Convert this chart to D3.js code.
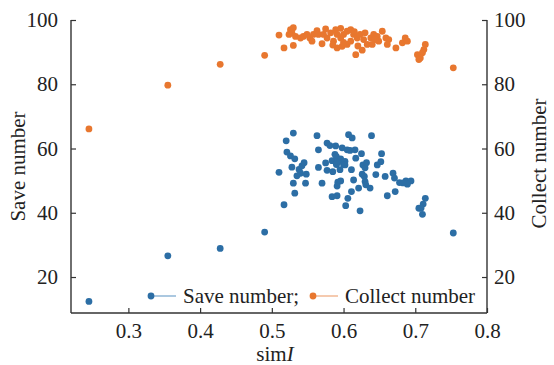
<!DOCTYPE html>
<html>
<head>
<meta charset="utf-8">
<script src="https://cdn.jsdelivr.net/npm/d3@7"></script>
<style>
  body { margin: 0; background: #fff; }
  svg text { font-family: "Liberation Serif", "DejaVu Serif", serif; fill: #222; }
</style>
</head>
<body>
<div id="chart"></div>
<script>
const saveSim = [0.245, 0.355, 0.428, 0.490, 0.753,
  0.530, 0.520, 0.563, 0.521, 0.526, 0.532, 0.510, 0.528,
  0.538, 0.542, 0.545, 0.540, 0.535, 0.548,
  0.565, 0.565, 0.577, 0.581, 0.575, 0.577, 0.584, 0.588, 0.590, 0.585,
  0.530, 0.532, 0.547, 0.570, 0.517, 0.584, 0.592,
  0.607, 0.612, 0.639, 0.589, 0.598, 0.605, 0.609, 0.616,
  0.590, 0.596, 0.602, 0.592, 0.600,
  0.625, 0.653, 0.617, 0.591, 0.602, 0.611, 0.627, 0.630, 0.632,
  0.647, 0.652, 0.595, 0.645,
  0.626, 0.629, 0.630, 0.631, 0.658, 0.669, 0.671,
  0.678, 0.687, 0.694, 0.614, 0.596, 0.591, 0.621, 0.637,
  0.672, 0.661, 0.611, 0.606, 0.591, 0.603, 0.623,
  0.689, 0.683, 0.714, 0.711, 0.705, 0.708, 0.710]
const saveNum = [12.4, 26.6, 28.9, 34.0, 33.7,
  64.8, 62.4, 64.0, 58.9, 57.7, 56.8, 52.6, 54.2,
  53.5, 54.6, 55.6, 52.3, 51.5, 52.0,
  59.6, 54.1, 61.7, 60.9, 55.5, 53.2, 56.2, 58.2, 55.0, 52.8,
  49.2, 46.1, 49.2, 49.2, 42.5, 45.0, 49.5,
  64.3, 63.3, 64.0, 60.8, 60.2, 59.6, 59.4, 59.6,
  57.5, 56.8, 56.0, 55.8, 55.0,
  58.4, 58.4, 57.0, 55.5, 54.9, 53.4, 54.9, 54.0, 55.6,
  54.9, 55.9, 53.4, 51.9,
  52.0, 51.3, 49.7, 48.7, 51.3, 52.3, 50.8,
  49.4, 49.9, 49.9, 50.2, 49.9, 48.3, 47.7, 47.7,
  46.6, 45.3, 46.6, 44.5, 45.3, 42.2, 40.6,
  48.9, 49.3, 44.5, 42.7, 41.4, 41.4, 39.5]

const collectSim = [0.245, 0.355, 0.428, 0.490, 0.753,
  0.510, 0.517, 0.530, 0.526, 0.530, 0.528, 0.524, 0.533,
  0.540, 0.544, 0.549, 0.553, 0.558, 0.563, 0.565,
  0.572, 0.577, 0.582, 0.589, 0.591, 0.586, 0.596, 0.600, 0.605, 0.610,
  0.614, 0.619, 0.623, 0.628, 0.633, 0.638, 0.642, 0.647, 0.649,
  0.591, 0.598, 0.605, 0.610, 0.617,
  0.644, 0.640, 0.654, 0.659, 0.663, 0.661, 0.673, 0.682, 0.686, 0.689,
  0.714, 0.712, 0.710, 0.703, 0.707, 0.705,
  0.556, 0.570, 0.600, 0.620, 0.575, 0.615, 0.630, 0.596, 0.585, 0.626]
const collectNum = [66.1, 79.7, 86.2, 89.0, 85.1,
  95.3, 91.3, 92.1, 97.0, 97.6, 96.0, 95.5, 94.9,
  94.4, 94.9, 95.5, 94.4, 95.5, 96.7, 95.5,
  95.5, 94.4, 96.0, 97.0, 95.5, 93.4, 94.4, 95.5, 96.5, 97.0,
  95.5, 94.4, 95.5, 93.9, 92.4, 94.4, 95.5, 94.9, 93.4,
  91.3, 91.8, 92.4, 93.4, 89.2,
  93.9, 92.4, 96.5, 94.4, 93.9, 92.4, 91.3, 92.9, 94.4, 93.4,
  92.4, 90.8, 89.8, 89.2, 88.2, 87.7,
  93.4, 92.6, 93.0, 91.9, 97.2, 96.4, 96.0, 97.4, 92.2, 90.6]

const xTicks = [0.3, 0.4, 0.5, 0.6, 0.7, 0.8]
const yTicks = [20, 40, 60, 80, 100]

const W = 554, H = 365
const margin = { top: 20, right: 67, bottom: 52, left: 71 }
const blue = '#2c6ea5', orange = '#e8772f'
const axisColor = '#333'
const serif = '"Liberation Serif", "DejaVu Serif", serif'
const fs = '21px'

const svg = d3.select('#chart').append('svg')
  .attr('width', W).attr('height', H)

const x = d3.scaleLinear().domain([0.22, 0.8]).range([margin.left, W - margin.right])
const yL = d3.scaleLinear().domain([8.8, 100]).range([H - margin.bottom, margin.top])
const yR = d3.scaleLinear().domain([8.8, 100]).range([H - margin.bottom, margin.top])

// all three axes have inward ticks
const gx = svg.append('g')
  .attr('transform', `translate(0,${H - margin.bottom})`)
  .call(d3.axisBottom(x).tickValues(xTicks).tickSize(-5).tickPadding(10).tickFormat(d3.format('.1f')))
const gl = svg.append('g')
  .attr('transform', `translate(${margin.left},0)`)
  .call(d3.axisLeft(yL).tickValues(yTicks).tickSize(-5).tickPadding(13))
const gr = svg.append('g')
  .attr('transform', `translate(${W - margin.right},0)`)
  .call(d3.axisRight(yR).tickValues(yTicks).tickSize(-5).tickPadding(7))

for (const g of [gx, gl, gr]) {
  g.attr('font-family', serif).attr('font-size', fs)
  g.select('.domain').attr('stroke', axisColor).attr('stroke-width', 1.4)
  g.selectAll('.tick line').attr('stroke', axisColor).attr('stroke-width', 1.2)
  g.selectAll('.tick text').attr('fill', '#222')
    .style('font-family', serif).style('font-size', fs)
}
gl.select('.domain').attr('d', `M0,${margin.top}V${H - margin.bottom}`)
gr.select('.domain').attr('d', `M0,${margin.top}V${H - margin.bottom}`)
gx.select('.domain').attr('d', `M${margin.left},0H${W - margin.right}`)

// axis titles
svg.append('text')
  .attr('transform', `translate(25,${(margin.top + H - margin.bottom) / 2}) rotate(-90)`)
  .attr('text-anchor', 'middle').attr('font-size', fs)
  .text('Save number')
svg.append('text')
  .attr('transform', `translate(546,${(margin.top + H - margin.bottom) / 2 - 3}) rotate(-90)`)
  .attr('text-anchor', 'middle').attr('font-size', fs)
  .text('Collect number')
const xt = svg.append('text')
  .attr('x', (margin.left + W - margin.right) / 2 - 4).attr('y', 361)
  .attr('text-anchor', 'middle').attr('font-size', fs)
xt.append('tspan').text('sim')
xt.append('tspan').attr('font-style', 'italic').text('I')

// points
svg.append('g').selectAll('circle')
  .data(d3.zip(saveSim, saveNum))
  .join('circle')
  .attr('cx', d => x(d[0])).attr('cy', d => yL(d[1]))
  .attr('r', 3.4).attr('fill', blue)

svg.append('g').selectAll('circle')
  .data(d3.zip(collectSim, collectNum))
  .join('circle')
  .attr('cx', d => x(d[0])).attr('cy', d => yR(d[1]))
  .attr('r', 3.4).attr('fill', orange)

// legend
const legend = [
  { label: 'Save number;', color: blue, line: '#8fb6d6', x: 151 },
  { label: 'Collect number', color: orange, line: '#f2b995', x: 313 }
]
const lg = svg.append('g')
for (const it of legend) {
  lg.append('line')
    .attr('x1', it.x).attr('x2', it.x + 25).attr('y1', 296).attr('y2', 296)
    .attr('stroke', it.line).attr('stroke-width', 1.5)
  lg.append('circle').attr('cx', it.x).attr('cy', 296).attr('r', 3.4).attr('fill', it.color)
  lg.append('text').attr('x', it.x + 32).attr('y', 302.5).attr('font-size', fs).text(it.label)
}
</script>
</body>
</html>
